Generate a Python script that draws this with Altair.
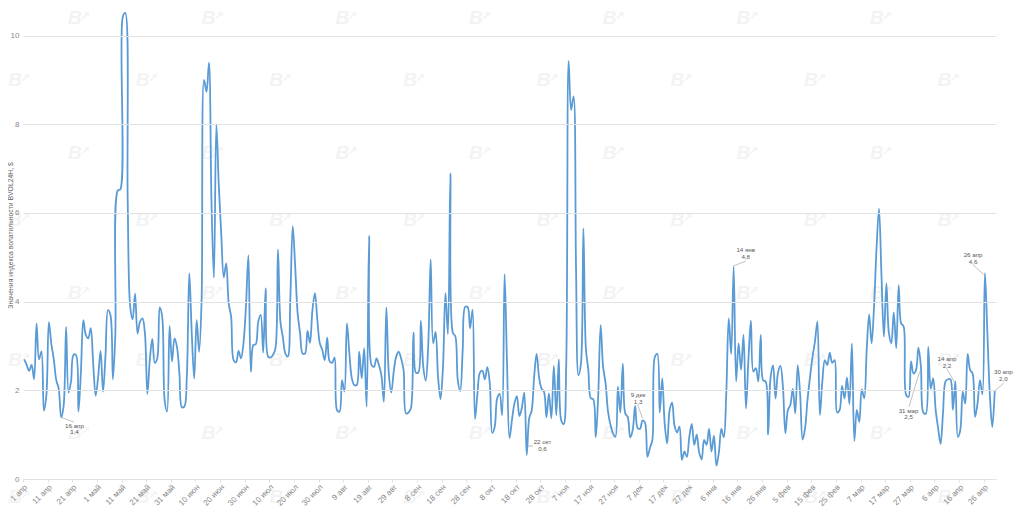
import json

import altair as alt
import pandas as pd

# Значения BVOL24H по дням, с 1 апреля (по 10 в строке)
VALUES = [
    2.70, 2.57, 2.44, 2.58, 2.25, 3.51, 2.70, 2.88, 1.54, 1.90,
    3.54, 3.05, 2.70, 2.23, 2.04, 1.39, 1.65, 3.43, 1.95, 2.20,
    2.80, 2.80, 1.52, 2.40, 3.58, 3.25, 3.17, 3.40, 2.60, 1.88,
    2.30, 2.89, 1.97, 2.80, 3.81, 3.70, 2.25, 3.30, 6.51, 6.53,
    10.42, 10.51, 6.30, 3.90, 3.60, 4.18, 3.28, 3.55, 3.62, 3.28,
    1.92, 2.70, 3.16, 2.62, 2.72, 3.87, 3.66, 1.78, 1.52, 3.45,
    2.65, 3.17, 2.98, 2.38, 1.62, 1.63, 2.30, 4.64, 3.30, 2.27,
    3.58, 2.87, 4.03, 9.00, 8.73, 9.39, 6.30, 4.54, 8.00, 6.60,
    5.50, 4.55, 4.86, 3.96, 3.66, 2.68, 2.63, 2.89, 2.72, 3.06,
    3.88, 5.05, 2.42, 3.02, 3.04, 3.55, 3.70, 2.85, 4.30, 2.76,
    2.74, 2.80, 2.95, 5.18, 3.55, 3.20, 2.83, 2.76, 4.03, 5.70,
    4.79, 3.73, 3.28, 2.83, 2.83, 3.34, 3.07, 3.81, 4.19, 3.58,
    3.06, 2.91, 2.68, 3.19, 2.65, 2.62, 2.74, 1.55, 1.52, 2.23,
    1.97, 3.51, 2.83, 2.27, 2.12, 2.12, 2.87, 2.27, 2.95, 1.63,
    5.48, 2.57, 2.53, 2.72, 2.57, 2.34, 1.74, 3.87, 2.38, 1.95,
    2.42, 2.76, 2.87, 2.72, 2.46, 1.48, 1.50, 1.60, 3.30, 2.40,
    2.40, 3.57, 2.53, 2.22, 3.00, 4.95, 3.06, 3.32, 2.30, 1.80,
    2.53, 4.19, 3.27, 6.89, 3.30, 3.22, 2.23, 1.98, 2.90, 3.88,
    3.88, 3.40, 3.82, 1.35, 1.93, 2.40, 2.44, 2.25, 2.52, 2.16,
    1.04, 1.18, 1.82, 1.92, 1.44, 4.62, 2.60, 0.92, 1.33, 1.70,
    1.87, 1.42, 1.60, 1.95, 0.54, 1.37, 1.54, 2.30, 2.82, 2.30,
    2.04, 1.97, 1.39, 1.93, 1.37, 2.55, 1.44, 2.70, 1.32, 1.24,
    2.50, 9.43, 8.32, 8.63, 4.80, 2.34, 2.60, 5.65, 2.95, 2.46,
    1.82, 1.80, 0.94, 1.86, 3.47, 2.53, 2.16, 1.52, 1.22, 1.03,
    0.95, 2.08, 1.50, 2.60, 1.48, 1.40, 0.94, 1.10, 1.65, 1.15,
    1.13, 1.32, 1.27, 0.50, 0.70, 0.88, 2.75, 2.82, 1.50, 2.27,
    1.25, 0.80, 1.55, 1.72, 1.20, 1.05, 1.18, 0.43, 0.62, 0.50,
    0.95, 1.24, 0.77, 1.00, 0.60, 0.44, 0.88, 0.77, 1.13, 0.62,
    0.98, 0.30, 0.60, 1.13, 0.94, 1.93, 3.62, 2.82, 4.79, 2.20,
    3.06, 2.46, 3.25, 1.59, 2.70, 3.57, 2.42, 2.50, 2.20, 3.25,
    2.22, 2.20, 1.00, 2.30, 2.56, 1.82, 2.40, 2.55, 2.08, 1.03,
    1.55, 1.67, 2.03, 1.48, 2.57, 1.90, 0.89, 1.15, 1.80, 2.30,
    2.75, 3.10, 3.55, 1.44, 2.20, 2.68, 2.57, 2.85, 2.62, 2.68,
    1.50, 1.55, 2.10, 1.82, 2.29, 1.69, 3.06, 0.86, 1.56, 1.29,
    2.02, 1.82, 2.90, 3.71, 3.06, 3.90, 5.20, 6.10, 4.60, 3.21,
    4.41, 3.30, 3.06, 3.76, 2.95, 4.37, 3.51, 3.44, 1.90, 1.85,
    2.65, 2.38, 2.45, 2.96, 2.55, 1.50, 1.47, 2.98, 2.04, 2.27,
    1.56, 1.15, 0.79, 1.50, 2.20, 2.25, 2.25, 1.56, 2.20, 0.95,
    1.10, 1.97, 1.70, 2.82, 2.46, 2.38, 1.40, 1.70, 2.23, 1.91,
    4.64, 3.30, 1.90, 1.17, 2.00,
]

TICK_LABELS = [
    "1 апр", "11 апр", "21 апр", "1 май", "11 май", "21 май", "31 май", "10 июн",
    "20 июн", "30 июн", "10 июл", "20 июл", "30 июл", "9 авг", "19 авг", "29 авг",
    "8 сен", "18 сен", "28 сен", "8 окт", "18 окт", "28 окт", "7 ноя", "17 ноя",
    "27 ноя", "7 дек", "17 дек", "27 дек", "6 янв", "16 янв", "26 янв", "5 фев",
    "15 фев", "25 фев", "7 мар", "17 мар", "27 мар", "6 апр", "16 апр", "26 апр",
]

# Подписи: дата, значение, центр подписи и концы выноски
NOTE_DATES = ["16 апр", "22 окт", "9 дек", "14 янв", "31 мар", "14 апр", "26 апр", "30 апр"]
NOTE_TEXTS = ["1,4", "0,6", "1,3", "4,8", "2,5", "2,2", "4,6", "2,0"]
NOTE_DAY = [20.4, 210.4, 249.2, 292.9, 359.0, 374.6, 385.2, 397.5]
NOTE_VAL = [1.127, 0.755, 1.82, 5.09, 1.466, 2.63, 4.98, 2.33]
LEAD_DAY = [15.0, 204.5, 249.0, 292.9, 359.2, 374.6, 385.2, 397.6]
LEAD_VAL = [1.39, 0.744, 1.67, 4.915, 1.63, 2.48, 4.825, 2.16]
LEAD_DAY2 = [20.2, 206.5, 251.0, 287.8, 363.5, 377.9, 389.5, 394.0]
LEAD_VAL2 = [1.285, 0.744, 1.375, 4.80, 2.42, 2.16, 4.615, 1.99]

BLUE = "#5B9BD5"
GRID = "#E2E2E2"
MUTED = "#888888"
FONT = "Liberation Sans"

K_X = 2.464  # пикселей на день
K_Y = 44.35  # пикселей на единицу

x_scale = alt.Scale(domain=[-0.5, 394.5], nice=False, zero=False)
y_scale = alt.Scale(domain=[0, 10.6], nice=False)

df = pd.DataFrame({"day": range(len(VALUES)), "value": VALUES})

label_expr = json.dumps(TICK_LABELS, ensure_ascii=False) + "[round((datum.value + 0.5) / 10)]"

x_axis = alt.Axis(
    values=[-0.5 + 10 * i for i in range(len(TICK_LABELS))],
    labelExpr=label_expr,
    labelAngle=-45,
    labelAlign="right",
    labelBaseline="top",
    labelFont=FONT,
    labelFontSize=8,
    labelColor=MUTED,
    labelPadding=1,
    labelOverlap=False,
    labelFlush=False,
    domainColor=GRID,
    tickColor=GRID,
    tickSize=3,
    grid=False,
    zindex=1,
)
y_axis = alt.Axis(
    values=[0, 2, 4, 6, 8, 10],
    labelFont=FONT,
    labelFontSize=8,
    labelColor=MUTED,
    labelPadding=4,
    domain=False,
    ticks=False,
    gridColor=GRID,
    titleFont=FONT,
    titleFontSize=6.8,
    titleFontWeight="normal",
    titleColor="#666666",
    titleBaseline="top",
    titleX=-16,
    titleY=226,
    zindex=1,
)
Y_TITLE = "Значения индекса волатильности BVOL24H, $"


def xy(x_field, y_field):
    return {
        "x": alt.X(x_field, scale=x_scale, axis=x_axis, title=None),
        "y": alt.Y(y_field, scale=y_scale, axis=y_axis, title=Y_TITLE),
    }


# Водяные знаки: шахматная сетка, шаг в пикселях
wm_rows = []
for i, py in enumerate([18, 80, 153, 220, 293, 360, 433, 497]):
    x0 = 78 if i % 2 == 0 else 18
    for j in range(8):
        px = x0 + j * 133.7 if (x0 == 78 or j == 0) else 12 + j * 133.7
        if px < 1005:
            wm_rows.append({"wx": (px - 23) / K_X - 0.5, "wy": (479 - py) / K_Y})
wm = pd.DataFrame(wm_rows)

wm_b = alt.Chart(wm).mark_text(
    text="B", font=FONT, fontWeight="bold", fontStyle="italic", fontSize=19, color="#F3F3F3", dx=-3
).encode(**xy("wx:Q", "wy:Q"))
wm_arrow = alt.Chart(wm).mark_text(
    text="↗", font="DejaVu Sans", fontWeight="bold", fontSize=12, color="#F3F3F3", dx=7, dy=-2
).encode(**xy("wx:Q", "wy:Q"))

line = alt.Chart(df).mark_line(
    color=BLUE, strokeWidth=1.8, interpolate="catmull-rom", strokeJoin="round"
).encode(**xy("day:Q", "value:Q"))

notes = pd.DataFrame(
    {
        "date": NOTE_DATES,
        "text": NOTE_TEXTS,
        "nx": NOTE_DAY,
        "ny": NOTE_VAL,
        "lx": LEAD_DAY,
        "ly": LEAD_VAL,
        "lx2": LEAD_DAY2,
        "ly2": LEAD_VAL2,
    }
)
leaders = alt.Chart(notes).mark_rule(color="#A6A6A6", strokeWidth=0.7).encode(
    **xy("lx:Q", "ly:Q"), x2="lx2:Q", y2="ly2:Q"
)
note_dates = alt.Chart(notes).mark_text(font=FONT, fontSize=6.2, color="#595959", dy=-3.4).encode(
    **xy("nx:Q", "ny:Q"), text="date:N"
)
note_texts = alt.Chart(notes).mark_text(font=FONT, fontSize=6.2, color="#595959", dy=3.4).encode(
    **xy("nx:Q", "ny:Q"), text="text:N"
)

chart = (
    alt.layer(wm_b, wm_arrow, line, leaders, note_dates, note_texts)
    .properties(
        width=973,
        height=470,
        background="white",
        autosize=alt.AutoSizeParams(type="none"),
        padding={"left": 15, "top": 1, "right": 20, "bottom": 28},
    )
    .configure_view(stroke=None)
)

chart.save("out.html", embed_options={"renderer": "svg", "actions": False})
